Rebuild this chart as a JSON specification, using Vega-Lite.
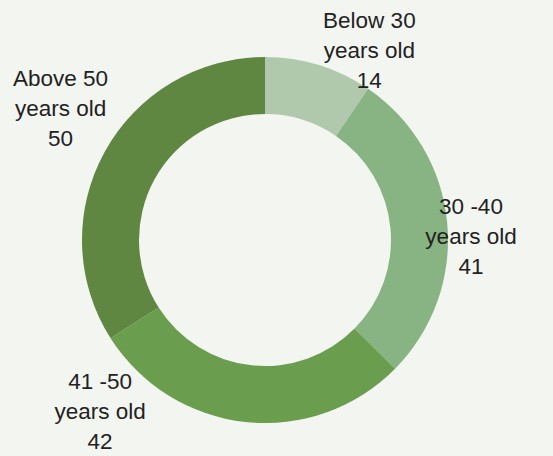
{
  "$schema": "https://vega.github.io/schema/vega-lite/v6.json",
  "width": 530,
  "height": 432,
  "autosize": {"type": "none"},
  "padding": {"left": 0, "top": 24, "right": 23, "bottom": 0},
  "background": "#f3f5f1",
  "config": {"view": {"stroke": null}},
  "data": {
    "values": [
      {"group": "Below 30 years old", "label": "Below 30\nyears old\n14", "value": 14, "order": 1},
      {"group": "30 -40 years old", "label": "30 -40\nyears old\n41", "value": 41, "order": 2},
      {"group": "41 -50 years old", "label": "41 -50\nyears old\n42", "value": 42, "order": 3},
      {"group": "Above 50 years old", "label": "Above 50\nyears old\n50", "value": 50, "order": 4}
    ]
  },
  "encoding": {
    "theta": {"field": "value", "type": "quantitative", "stack": true},
    "order": {"field": "order", "type": "quantitative"}
  },
  "layer": [
    {
      "mark": {"type": "arc", "radius": 183, "radius2": 126},
      "encoding": {
        "color": {
          "field": "group",
          "type": "nominal",
          "scale": {
            "domain": ["Below 30 years old", "30 -40 years old", "41 -50 years old", "Above 50 years old"],
            "range": ["#b0c9ac", "#88b382", "#6a9e4e", "#608742"]
          },
          "legend": null
        }
      }
    },
    {
      "mark": {"type": "text", "radius": 215, "dx": 41, "dy": -14, "align": "center", "baseline": "middle", "lineBreak": "\n", "lineHeight": 30, "font": "Liberation Sans", "fontSize": 22.5, "color": "#222222"},
      "encoding": {"text": {"condition": {"test": "datum.order == 1", "field": "label"}, "value": ""}}
    },
    {
      "mark": {"type": "text", "radius": 215, "dx": -8, "dy": -12, "align": "center", "baseline": "middle", "lineBreak": "\n", "lineHeight": 30, "font": "Liberation Sans", "fontSize": 22.5, "color": "#222222"},
      "encoding": {"text": {"condition": {"test": "datum.order == 2", "field": "label"}, "value": ""}}
    },
    {
      "mark": {"type": "text", "radius": 215, "dx": -142, "dy": -72, "align": "center", "baseline": "middle", "lineBreak": "\n", "lineHeight": 30, "font": "Liberation Sans", "fontSize": 22.5, "color": "#222222"},
      "encoding": {"text": {"condition": {"test": "datum.order == 3", "field": "label"}, "value": ""}}
    },
    {
      "mark": {"type": "text", "radius": 215, "dx": -16, "dy": -58, "align": "center", "baseline": "middle", "lineBreak": "\n", "lineHeight": 30, "font": "Liberation Sans", "fontSize": 22.5, "color": "#222222"},
      "encoding": {"text": {"condition": {"test": "datum.order == 4", "field": "label"}, "value": ""}}
    }
  ]
}
